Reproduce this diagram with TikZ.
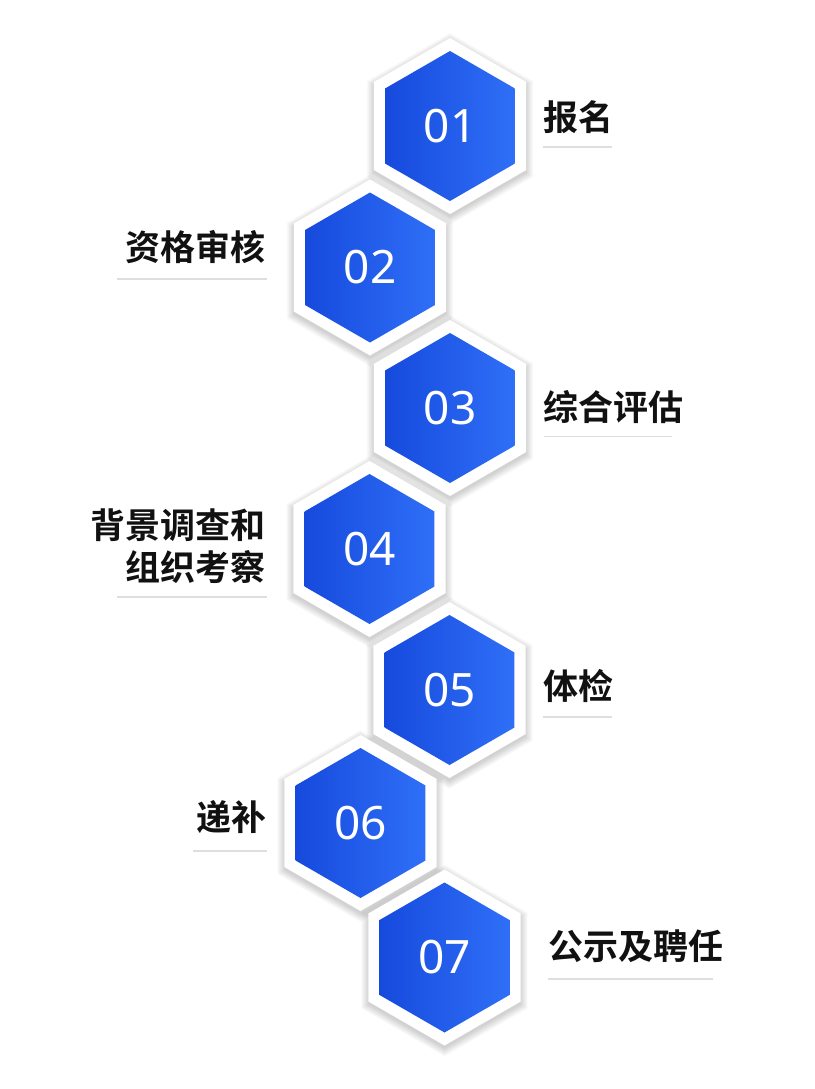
\documentclass[tikz,border=0pt]{standalone}
\usepackage{fontspec}
\newfontfamily\cjkb{Noto Sans CJK SC Bold}
\newfontfamily\numf{Noto Sans}
\definecolor{hexL}{RGB}{22,74,221}
\definecolor{hexR}{RGB}{47,111,247}
\definecolor{ulinec}{RGB}{220,222,226}
\definecolor{ink}{RGB}{17,17,17}
\newcommand\hexp[1]{(90:#1) -- (150:#1) -- (210:#1) -- (270:#1) -- (330:#1) -- (30:#1) -- cycle}
\begin{document}
\begin{tikzpicture}[x=1pt,y=-1pt,
  lab/.style={font=\cjkb\fontsize{35}{42}\selectfont, text=ink, inner sep=0pt},
  num/.style={font=\numf\fontsize{46}{50}\selectfont, text=white, inner sep=0pt},
  uline/.style={draw=ulinec, line width=1.5pt}]
\fill[white] (0,0) rectangle (814,1089);
\useasboundingbox (0,0) rectangle (814,1089);
\def\hexlist{450/126/01/1, 370/267.5/02/2, 450/408/03/3, 369.5/549/04/4, 449.5/690/05/5, 360.5/823/06/6, 444.5/957.5/07/7}
\foreach \cx/\cy/\t/\i in \hexlist {
  \begin{scope}[shift={(\cx,\cy+3)}]
    \foreach \k in {1,...,9} \fill[black,opacity=0.02] \hexp{{87+\k}};
  \end{scope}
}
\foreach \cx/\cy/\t/\i in \hexlist {
  \begin{scope}[shift={(\cx,\cy)}]
    \fill[white] \hexp{88};
    \shade[left color=hexL, right color=hexR] \hexp{75};
  \end{scope}
  \node[num] (n\i) at (\cx,\cy) {\t};
}
\node[lab, anchor=base west] (t1) at (543,131) {报名};
\node[lab, anchor=base east] (t2) at (266,260.5) {资格审核};
\node[lab, anchor=base west] (t3) at (543,420) {综合评估};
\node[lab, anchor=base east] (t4a) at (266,538) {背景调查和};
\node[lab, anchor=base east] (t4b) at (266,580) {组织考察};
\node[lab, anchor=base west] (t5) at (543,699) {体检};
\node[lab, anchor=base east] (t6) at (267,830) {递补};
\node[lab, anchor=base west] (t7) at (548,959) {公示及聘任};
\draw[uline] (543,147) -- (612,147);
\draw[uline] (117,279) -- (267,279);
\draw[uline] (544,436.5) -- (672,436.5);
\draw[uline] (117,597) -- (267,597);
\draw[uline] (543,717) -- (612,717);
\draw[uline] (193,851) -- (267,851);
\draw[uline] (548,979) -- (713,979);
\end{tikzpicture}
\end{document}
